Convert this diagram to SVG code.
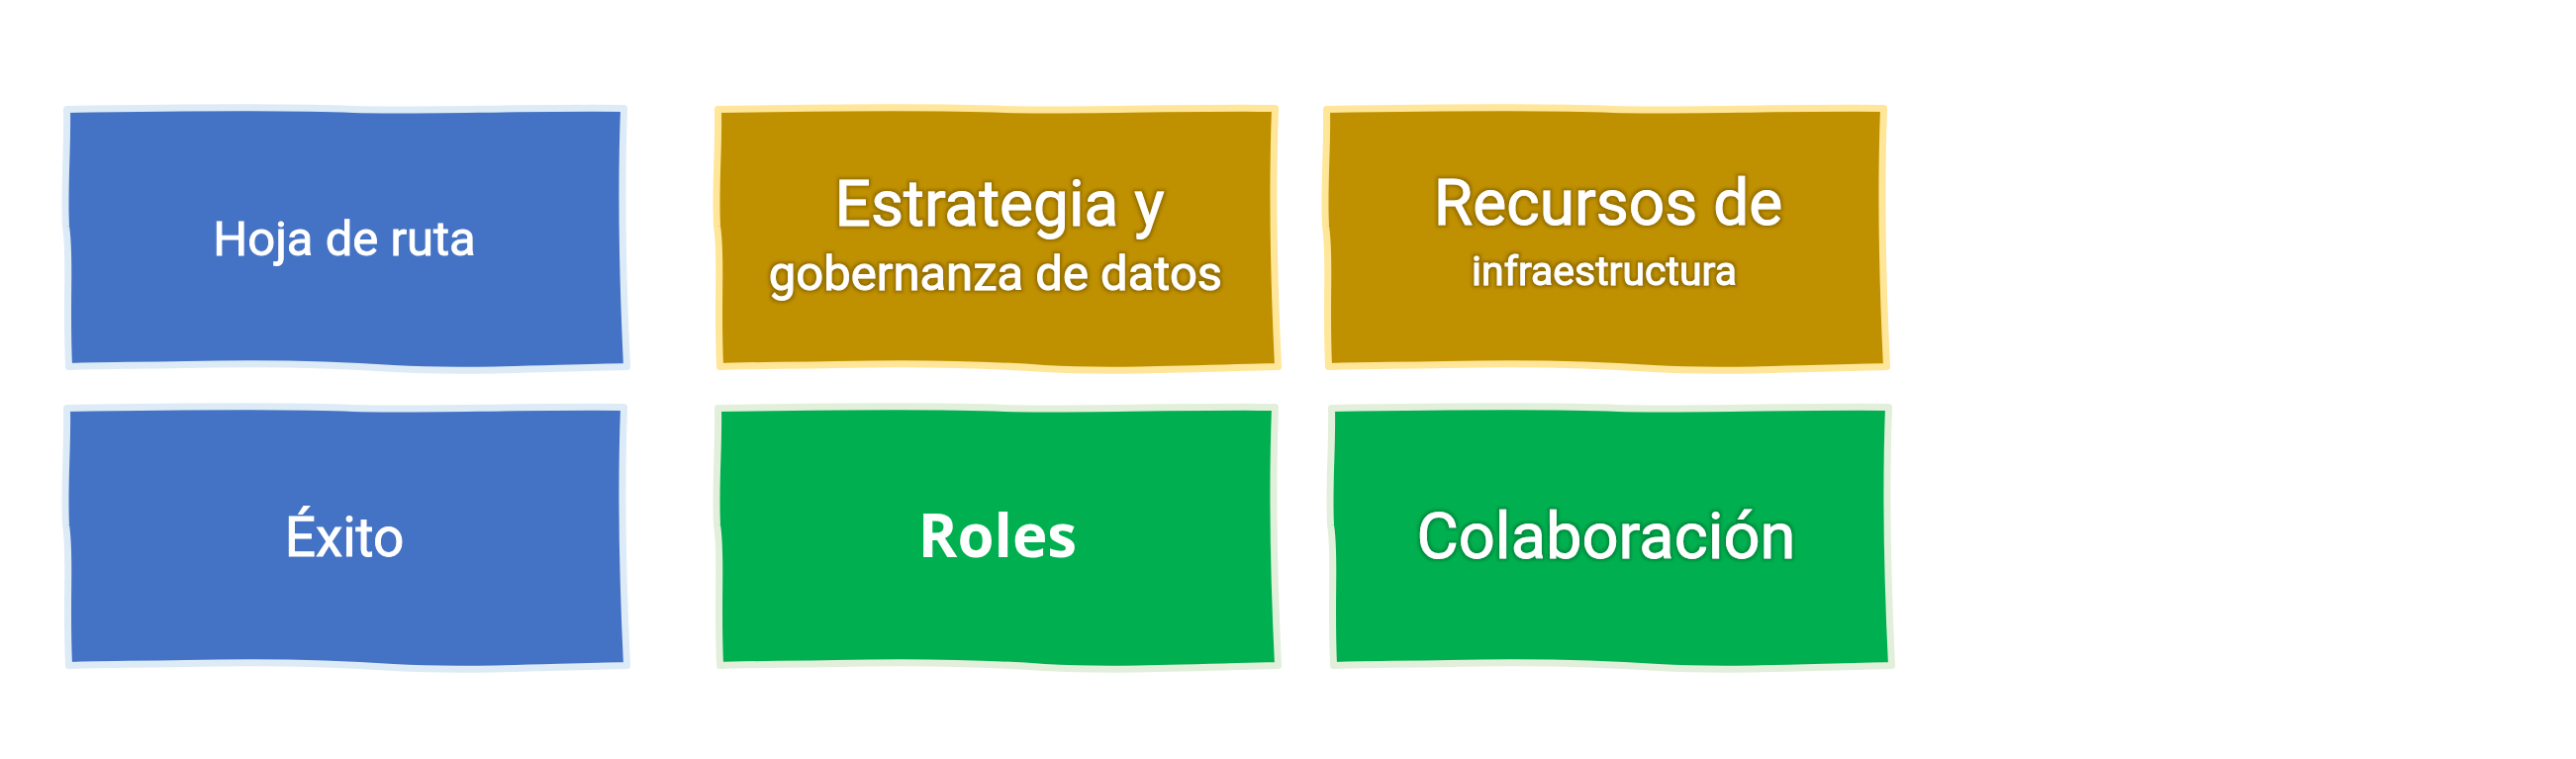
<svg xmlns="http://www.w3.org/2000/svg" width="2603" height="767" viewBox="0 0 2603 767">
<style>
.box{stroke-width:7;stroke-linejoin:round}
.blue{fill:#4472C4;stroke:#DDEBF7}
.gold{fill:#BF9000;stroke:#FFE699}
.green{fill:#00B050;stroke:#E2EFDA}
.t{font-family:Roboto,"Noto Sans",sans-serif;font-weight:400;fill:#FFFFFF;stroke:#FFFFFF;stroke-width:0.9;text-anchor:middle}
.b{font-family:"Open Sans","Noto Sans",sans-serif;font-weight:700;fill:#FFFFFF;text-anchor:middle}
.sh{filter:url(#halo)}
</style>
<defs>
<path id="shape" d="M0,2 C120,0 220,-1 290,2 C350,4 460,0 563,1 C560,80 562,180 566,262 C470,264 400,268 330,264 C260,259 200,258 120,260 C60,261 20,261 2,262 C-1,190 4,150 -1,120 C-3,80 1,40 0,2 Z"/>
<filter id="halo" x="-10%" y="-30%" width="120%" height="160%">
<feMorphology in="SourceAlpha" operator="dilate" radius="1.5" result="d"/>
<feGaussianBlur in="d" stdDeviation="1.5" result="bl"/>
<feFlood flood-color="#5a4000" flood-opacity="0.4"/>
<feComposite in2="bl" operator="in" result="s"/>
<feMerge><feMergeNode in="s"/><feMergeNode in="SourceGraphic"/></feMerge>
</filter>
<filter id="haloG" x="-10%" y="-30%" width="120%" height="160%">
<feMorphology in="SourceAlpha" operator="dilate" radius="1.5" result="d"/>
<feGaussianBlur in="d" stdDeviation="1.5" result="bl"/>
<feFlood flood-color="#00551f" flood-opacity="0.4"/>
<feComposite in2="bl" operator="in" result="s"/>
<feMerge><feMergeNode in="s"/><feMergeNode in="SourceGraphic"/></feMerge>
</filter>
</defs>
<rect width="2603" height="767" fill="#FFFFFF"/>
<g id="connectors"></g>
<g id="node-hoja">
<use href="#shape" class="box blue" transform="translate(67.5,108.5)"/>
<text class="t" x="348" y="258" font-size="49">Hoja de ruta</text>
</g>
<g id="node-estrategia">
<use href="#shape" class="box gold" transform="translate(725.5,108.5)"/>
<text class="t sh" x="1010" y="228" font-size="64">Estrategia y</text>
<text class="t sh" x="1006" y="293" font-size="49">gobernanza de datos</text>
</g>
<g id="node-recursos">
<use href="#shape" class="box gold" transform="translate(1340.5,108.5)"/>
<text class="t sh" x="1625" y="227" font-size="64">Recursos de</text>
<text class="t sh" x="1621" y="288" font-size="41">infraestructura</text>
</g>
<g id="node-exito">
<use href="#shape" class="box blue" transform="translate(67.5,410.5)"/>
<text class="t" x="348" y="562" font-size="55">Éxito</text>
</g>
<g id="node-roles">
<use href="#shape" class="box green" transform="translate(725.5,410.5)"/>
<text class="b" x="1008" y="563" font-size="60">Roles</text>
</g>
<g id="node-colaboracion">
<use href="#shape" class="box green" transform="translate(1345.5,410.5)"/>
<text class="t" x="1623" y="564" font-size="65" filter="url(#haloG)">Colaboración</text>
</g>
</svg>
